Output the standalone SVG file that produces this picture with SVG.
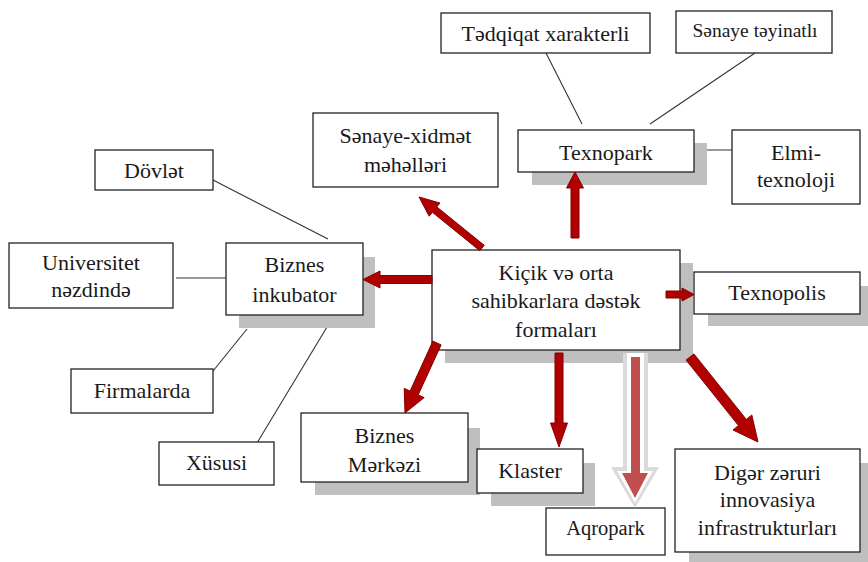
<svg xmlns="http://www.w3.org/2000/svg" width="868" height="562" viewBox="0 0 868 562">
<style>
  .box{fill:#ffffff;stroke:#222222;stroke-width:1.3}
  .sh{fill:#bfbfbf}
  .t{font-family:"Liberation Serif","Times New Roman",serif;font-size:22px;fill:#1a1a1a;text-anchor:middle}
  .ln{stroke:#333333;stroke-width:1.1;fill:none}
  .ar{fill:#b00000;stroke:#850000;stroke-width:1;stroke-linejoin:miter}
</style>
<rect width="868" height="562" fill="#ffffff"/>

<g id="connectors">
  <line class="ln" x1="546" y1="53" x2="582" y2="124"/>
  <line class="ln" x1="755" y1="53" x2="650" y2="124"/>
  <line class="ln" x1="694" y1="150" x2="732" y2="150"/>
  <line class="ln" x1="213" y1="180" x2="328" y2="239"/>
  <line class="ln" x1="176" y1="278" x2="236" y2="278"/>
  <line class="ln" x1="213" y1="371" x2="247" y2="329"/>
  <line class="ln" x1="257" y1="443" x2="327" y2="327"/>
</g>

<g id="n-tedqiqat"><rect class="box" x="441" y="13" width="209" height="40"/><text class="t" x="545.5" y="40.5">Tədqiqat xarakterli</text></g>
<g id="n-senaye-teyinatli"><rect class="box" x="676" y="11" width="156" height="42"/><text class="t" x="755" y="37" style="font-size:19.5px">Sənaye təyinatlı</text></g>
<g id="n-senaye-xidmet"><rect class="box" x="313" y="113" width="185" height="74"/><text class="t" x="405.5" y="143">Sənaye-xidmət</text><text class="t" x="405.5" y="172">məhəlləri</text></g>
<g id="n-texnopark"><rect class="sh" x="532" y="143" width="175" height="42"/><rect class="box" x="518" y="130" width="176" height="42"/><text class="t" x="606" y="159.5">Texnopark</text></g>
<g id="n-elmi"><rect class="box" x="732" y="130" width="128" height="74"/><text class="t" x="796" y="160">Elmi-</text><text class="t" x="796" y="187">texnoloji</text></g>
<g id="n-dovlet"><rect class="box" x="95" y="150" width="118" height="40"/><text class="t" x="154" y="178">Dövlət</text></g>
<g id="n-universitet"><rect class="box" x="9" y="243" width="164" height="65"/><text class="t" x="91" y="270">Universitet</text><text class="t" x="91" y="297">nəzdində</text></g>
<g id="n-inkubator"><rect class="sh" x="239" y="257" width="136" height="71"/><rect class="box" x="226" y="243" width="137" height="72"/><text class="t" x="294.5" y="272">Biznes</text><text class="t" x="294.5" y="302">inkubator</text></g>
<g id="n-center"><rect class="sh" x="445" y="263" width="248" height="100"/><rect class="box" x="432" y="250" width="248" height="100"/><text class="t" x="556" y="280">Kiçik və orta</text><text class="t" x="556" y="308">sahibkarlara dəstək</text><text class="t" x="556" y="337">formaları</text></g>
<g id="n-texnopolis"><rect class="sh" x="708" y="286" width="160" height="40"/><rect class="box" x="694" y="272" width="166" height="42"/><text class="t" x="777" y="300">Texnopolis</text></g>
<g id="n-firmalarda"><rect class="box" x="71" y="369" width="142" height="44"/><text class="t" x="142" y="398">Firmalarda</text></g>
<g id="n-xususi"><rect class="box" x="159" y="442" width="115" height="43"/><text class="t" x="216.5" y="470">Xüsusi</text></g>
<g id="n-biznes-merkezi"><rect class="sh" x="315" y="428" width="165" height="67"/><rect class="box" x="301" y="413" width="167" height="69"/><text class="t" x="384.5" y="443">Biznes</text><text class="t" x="384.5" y="472">Mərkəzi</text></g>
<g id="n-klaster"><rect class="sh" x="491" y="463" width="104" height="43"/><rect class="box" x="477" y="449" width="106" height="44"/><text class="t" x="530" y="478">Klaster</text></g>
<g id="n-aqropark"><rect class="box" x="546" y="508" width="119" height="47"/><text class="t" x="605.5" y="535" style="font-size:20.5px">Aqropark</text></g>
<g id="n-diger"><rect class="sh" x="689" y="463" width="185" height="104"/><rect class="box" x="675" y="449" width="185" height="103"/><text class="t" x="767.5" y="480">Digər zəruri</text><text class="t" x="767.5" y="507">innovasiya</text><text class="t" x="767.5" y="535">infrastrukturları</text></g>

<g id="arrows">
  <polygon class="ar" points="571,238 571,188 566.5,188 575,172 583.5,188 579,188 579,238"/>
  <polygon class="ar" points="432,275.5 380,275.5 380,271 363,279.5 380,288 380,283.5 432,283.5"/>
  <polygon class="ar" points="666,291 682,291 682,288 694,294.5 682,301 682,298 666,298"/>
  <polygon class="ar" points="419,197 440,203 436.8,206.9 484.2,245.3 479.8,250.7 432.4,212.3 429.2,216.2"/>
  <polygon class="ar" points="405,413 404.2,388.4 410.1,391.1 432.9,341.1 441.1,344.9 418.2,394.9 424.2,397.6"/>
  <polygon class="ar" points="555,353 563,353 563,423 567.5,423 559,447 550.5,423 555,423"/>
  <polygon points="623,353 648,353 648,467 659,467 635,508 611,467 623,467" fill="#dadada"/>
  <polygon points="627,353 644,353 644,471 653,471 635,503 617,471 627,471" fill="#ffffff"/>
  <polygon points="631,357 640,357 640,473 648,473 635,498 622,473 631,473" fill="#c0504d"/>
  <polygon class="ar" points="758,442 733,430 738.5,425.6 686.1,360.1 693.9,353.9 746.3,419.4 751.8,415"/>
</g>
</svg>
